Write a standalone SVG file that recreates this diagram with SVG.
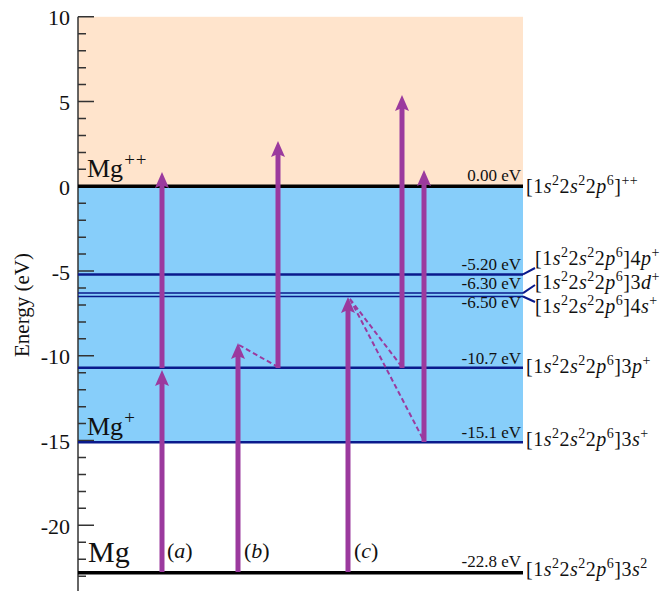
<svg xmlns="http://www.w3.org/2000/svg" width="665" height="591" viewBox="0 0 665 591">
<style>
text{font-family:"Liberation Serif","Times New Roman",serif;fill:#111}
.tick{font-size:22px;text-anchor:end}
.val{font-size:17px;text-anchor:end}
.cfg{font-size:20px;letter-spacing:0.5px}
.i{font-style:italic}
.sup{font-size:14px}
.lvl{stroke:#0a1a8c;stroke-width:2.5}
.thin{stroke:#0a1a8c;stroke-width:1.5}
.blk{stroke:#000;stroke-width:3.5}
.arr{stroke:#9b3a9e;stroke-width:5}
.head{fill:#9b3a9e}
.dash{stroke:#9b3a9e;stroke-width:2;stroke-dasharray:5,3;fill:none}
.conn{stroke:#0a1a8c;stroke-width:2;fill:none}
.mg{font-size:26px}
.msup{font-size:19px;letter-spacing:1px}
.lab{font-size:22px}
</style>
<rect x="0" y="0" width="665" height="591" fill="#fff"/>
<g id="background">
<rect x="78" y="16.8" width="445" height="169.5" fill="#ffe4cc"/>
<rect x="78" y="186.3" width="445" height="255.9" fill="#87cefa"/>
</g>
<g id="axis">
<line x1="78" y1="16.8" x2="78" y2="591" stroke="#333" stroke-width="1.5"/>
<path stroke="#333" stroke-width="1.5" fill="none" d="M78,16.8h16 M78,33.75h8 M78,50.7h8 M78,67.65h8 M78,84.6h8 M78,101.55h16 M78,118.5h8 M78,135.45h8 M78,152.4h8 M78,169.35h8 M78,186.3h16 M78,203.25h8 M78,220.2h8 M78,237.15h8 M78,254.1h8 M78,271.05h16 M78,288h8 M78,304.95h8 M78,321.9h8 M78,338.85h8 M78,355.8h16 M78,372.75h8 M78,389.7h8 M78,406.65h8 M78,423.6h8 M78,440.55h16 M78,457.5h8 M78,474.45h8 M78,491.4h8 M78,508.35h8 M78,525.3h16 M78,542.25h8 M78,559.2h8 M78,576.15h8"/>
<text class="tick" x="70" y="25">10</text>
<text class="tick" x="70" y="110">5</text>
<text class="tick" x="70" y="195">0</text>
<text class="tick" x="70" y="280">-5</text>
<text class="tick" x="70" y="364">-10</text>
<text class="tick" x="70" y="449">-15</text>
<text class="tick" x="70" y="534">-20</text>
<text x="29" y="305" font-size="21" text-anchor="middle" transform="rotate(-90 29 305)">Energy (eV)</text>
</g>
<g id="level-0">
<line class="blk" x1="78" y1="186.3" x2="523" y2="186.3"/>
<text class="val" x="521" y="181">0.00 eV</text>
<text class="cfg" x="526" y="193">[1<tspan class="i">s</tspan><tspan class="sup" dy="-8">2</tspan><tspan dy="8">2</tspan><tspan class="i">s</tspan><tspan class="sup" dy="-8">2</tspan><tspan dy="8">2</tspan><tspan class="i">p</tspan><tspan class="sup" dy="-8">6</tspan><tspan dy="8">]</tspan><tspan class="sup" dy="-8">++</tspan></text>
</g>
<g id="level-4p">
<line class="lvl" x1="78" y1="274.4" x2="523" y2="274.4"/>
<text class="val" x="521" y="270">-5.20 eV</text>
<text class="cfg" x="535" y="265">[1<tspan class="i">s</tspan><tspan class="sup" dy="-8">2</tspan><tspan dy="8">2</tspan><tspan class="i">s</tspan><tspan class="sup" dy="-8">2</tspan><tspan dy="8">2</tspan><tspan class="i">p</tspan><tspan class="sup" dy="-8">6</tspan><tspan dy="8">]4</tspan><tspan class="i">p</tspan><tspan class="sup" dy="-8">+</tspan></text>
</g>
<g id="level-3d">
<line class="thin" x1="78" y1="293.1" x2="523" y2="293.1"/>
<text class="val" x="521" y="289">-6.30 eV</text>
<text class="cfg" x="535" y="289">[1<tspan class="i">s</tspan><tspan class="sup" dy="-8">2</tspan><tspan dy="8">2</tspan><tspan class="i">s</tspan><tspan class="sup" dy="-8">2</tspan><tspan dy="8">2</tspan><tspan class="i">p</tspan><tspan class="sup" dy="-8">6</tspan><tspan dy="8">]3</tspan><tspan class="i">d</tspan><tspan class="sup" dy="-8">+</tspan></text>
</g>
<g id="level-4s">
<line class="thin" x1="78" y1="296.5" x2="523" y2="296.5"/>
<text class="val" x="521" y="308">-6.50 eV</text>
<text class="cfg" x="535" y="313">[1<tspan class="i">s</tspan><tspan class="sup" dy="-8">2</tspan><tspan dy="8">2</tspan><tspan class="i">s</tspan><tspan class="sup" dy="-8">2</tspan><tspan dy="8">2</tspan><tspan class="i">p</tspan><tspan class="sup" dy="-8">6</tspan><tspan dy="8">]4</tspan><tspan class="i">s</tspan><tspan class="sup" dy="-8">+</tspan></text>
</g>
<g id="level-3p">
<line class="lvl" x1="78" y1="367.7" x2="523" y2="367.7"/>
<text class="val" x="521" y="364">-10.7 eV</text>
<text class="cfg" x="526" y="373">[1<tspan class="i">s</tspan><tspan class="sup" dy="-8">2</tspan><tspan dy="8">2</tspan><tspan class="i">s</tspan><tspan class="sup" dy="-8">2</tspan><tspan dy="8">2</tspan><tspan class="i">p</tspan><tspan class="sup" dy="-8">6</tspan><tspan dy="8">]3</tspan><tspan class="i">p</tspan><tspan class="sup" dy="-8">+</tspan></text>
</g>
<g id="level-3s">
<line class="lvl" x1="78" y1="442.2" x2="523" y2="442.2"/>
<text class="val" x="521" y="438">-15.1 eV</text>
<text class="cfg" x="526" y="446">[1<tspan class="i">s</tspan><tspan class="sup" dy="-8">2</tspan><tspan dy="8">2</tspan><tspan class="i">s</tspan><tspan class="sup" dy="-8">2</tspan><tspan dy="8">2</tspan><tspan class="i">p</tspan><tspan class="sup" dy="-8">6</tspan><tspan dy="8">]3</tspan><tspan class="i">s</tspan><tspan class="sup" dy="-8">+</tspan></text>
</g>
<g id="level-ground">
<line class="blk" x1="78" y1="572.8" x2="523" y2="572.8" stroke-width="4"/>
<text class="val" x="521" y="567">-22.8 eV</text>
<text class="cfg" x="526" y="576">[1<tspan class="i">s</tspan><tspan class="sup" dy="-8">2</tspan><tspan dy="8">2</tspan><tspan class="i">s</tspan><tspan class="sup" dy="-8">2</tspan><tspan dy="8">2</tspan><tspan class="i">p</tspan><tspan class="sup" dy="-8">6</tspan><tspan dy="8">]3</tspan><tspan class="i">s</tspan><tspan class="sup" dy="-8">2</tspan></text>
</g>
<g id="species-labels">
<text class="mg" x="87" y="177">Mg<tspan class="msup" dx="1" dy="-11">++</tspan></text>
<text class="mg" x="87" y="435">Mg<tspan class="msup" dx="1" dy="-11">+</tspan></text>
<text x="88" y="562" font-size="30">Mg</text>
<text class="lab" x="167" y="558">(<tspan class="i">a</tspan>)</text>
<text class="lab" x="244" y="558">(<tspan class="i">b</tspan>)</text>
<text class="lab" x="354" y="558">(<tspan class="i">c</tspan>)</text>
</g>
<g id="connectors">
<path class="conn" d="M523,274.4 L535,268 M523,293.1 L535,285 M523,296.5 L535,302"/>
<line class="arr" x1="162" y1="572" x2="162" y2="382"/>
<polygon class="head" points="162,370 169,386 162,383 155,386"/>
<line class="arr" x1="162" y1="368" x2="162" y2="184"/>
<polygon class="head" points="162,172 169,188 162,185 155,188"/>
<line class="arr" x1="238" y1="572" x2="238" y2="355"/>
<polygon class="head" points="238,343 245,359 238,356 231,359"/>
<line class="arr" x1="278" y1="368" x2="278" y2="153"/>
<polygon class="head" points="278,141 285,157 278,154 271,157"/>
<line class="arr" x1="348" y1="572" x2="348" y2="309"/>
<polygon class="head" points="348,297 355,313 348,310 341,313"/>
<line class="arr" x1="402" y1="368" x2="402" y2="107"/>
<polygon class="head" points="402,95 409,111 402,108 395,111"/>
<line class="arr" x1="424" y1="442" x2="424" y2="182"/>
<polygon class="head" points="424,170 431,186 424,183 417,186"/>
<path class="dash" d="M239,345 L278,367 M350,299 L402,367 M350,299 L424,441"/>
</g>
</svg>
